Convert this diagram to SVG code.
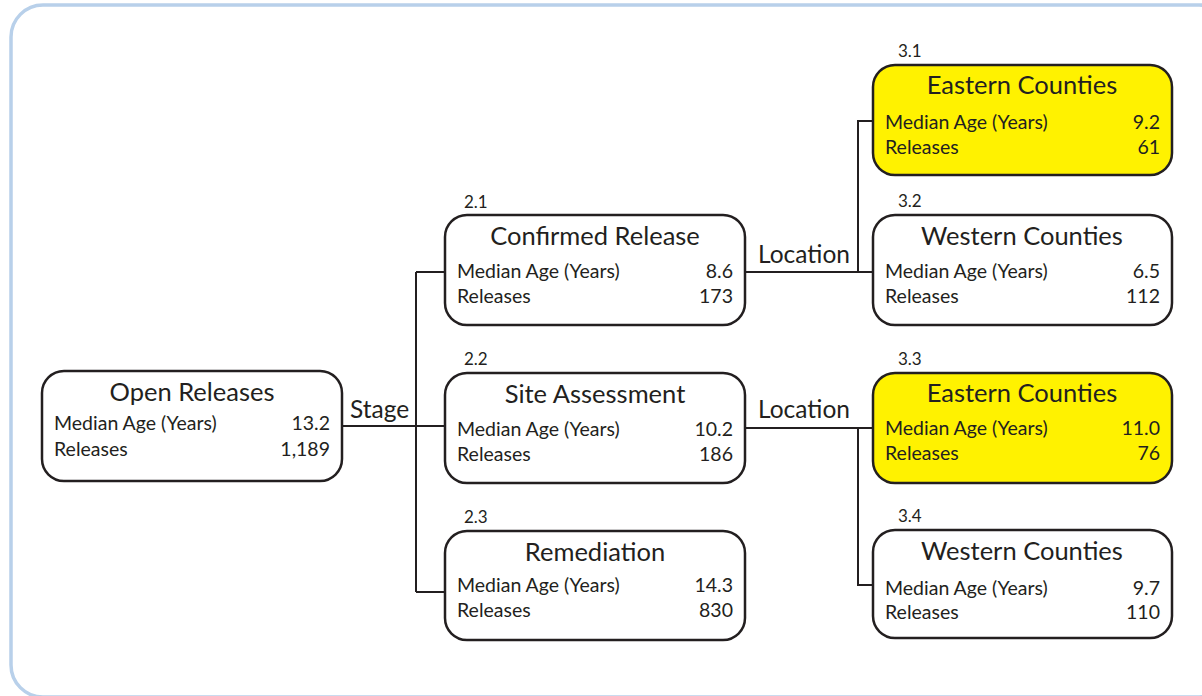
<svg xmlns="http://www.w3.org/2000/svg" width="1202" height="696" viewBox="0 0 1202 696">
<style>
.frame{fill:none;stroke:#b8d0ea;stroke-width:3.5}
.box{fill:#ffffff;stroke:#231f20;stroke-width:2.5}
.hl{fill:#fff200}
.conn{fill:none;stroke:#231f20;stroke-width:2}
text{font-family:Lato,"Open Sans","Liberation Sans",sans-serif;fill:#231f20}
.title{font-size:25.5px;text-anchor:middle}
.row{font-size:19.5px}
.num{font-size:19.5px;text-anchor:end}
.id{font-size:17px}
.lbl{font-size:24.5px}
</style>
<rect class="frame" x="11" y="5" width="1220" height="692" rx="32"/>
<g id="connectors">
<path class="conn" d="M342 426H445"/>
<path class="conn" d="M416 272V592M416 272H445M416 592H445"/>
<path class="conn" d="M745 272H873M858 272V121H873"/>
<path class="conn" d="M745 428H873M858 428V585H873"/>
</g>
<g id="labels">
<text class="lbl" x="350" y="418">Stage</text>
<text class="lbl" x="758" y="263">Location</text>
<text class="lbl" x="758" y="418">Location</text>
</g>
<g id="n1">
<rect class="box" x="42" y="371" width="300" height="110" rx="22"/>
<text class="title" x="192" y="401">Open Releases</text>
<text class="row" x="54" y="430">Median Age (Years)</text>
<text class="num" x="330" y="430">13.2</text>
<text class="row" x="54" y="456">Releases</text>
<text class="num" x="330" y="456">1,189</text>
</g>
<g id="n2_1">
<text class="id" x="464" y="208">2.1</text>
<rect class="box" x="445" y="215" width="300" height="110" rx="22"/>
<text class="title" x="595" y="245">Confirmed Release</text>
<text class="row" x="457" y="278">Median Age (Years)</text>
<text class="num" x="733" y="278">8.6</text>
<text class="row" x="457" y="303">Releases</text>
<text class="num" x="733" y="303">173</text>
</g>
<g id="n2_2">
<text class="id" x="464" y="365">2.2</text>
<rect class="box" x="445" y="373" width="300" height="110" rx="22"/>
<text class="title" x="595" y="403">Site Assessment</text>
<text class="row" x="457" y="436">Median Age (Years)</text>
<text class="num" x="733" y="436">10.2</text>
<text class="row" x="457" y="461">Releases</text>
<text class="num" x="733" y="461">186</text>
</g>
<g id="n2_3">
<text class="id" x="464" y="523">2.3</text>
<rect class="box" x="445" y="531" width="300" height="109" rx="22"/>
<text class="title" x="595" y="561">Remediation</text>
<text class="row" x="457" y="592">Median Age (Years)</text>
<text class="num" x="733" y="592">14.3</text>
<text class="row" x="457" y="617">Releases</text>
<text class="num" x="733" y="617">830</text>
</g>
<g id="n3_1">
<text class="id" x="898" y="57">3.1</text>
<rect class="box hl" x="873" y="65" width="299" height="110" rx="22"/>
<text class="title" x="1022" y="94">Eastern Counties</text>
<text class="row" x="885" y="129">Median Age (Years)</text>
<text class="num" x="1160" y="129">9.2</text>
<text class="row" x="885" y="154">Releases</text>
<text class="num" x="1160" y="154">61</text>
</g>
<g id="n3_2">
<text class="id" x="898" y="207">3.2</text>
<rect class="box" x="873" y="215" width="299" height="110" rx="22"/>
<text class="title" x="1022" y="245">Western Counties</text>
<text class="row" x="885" y="278">Median Age (Years)</text>
<text class="num" x="1160" y="278">6.5</text>
<text class="row" x="885" y="303">Releases</text>
<text class="num" x="1160" y="303">112</text>
</g>
<g id="n3_3">
<text class="id" x="898" y="365">3.3</text>
<rect class="box hl" x="873" y="373" width="299" height="110" rx="22"/>
<text class="title" x="1022" y="402">Eastern Counties</text>
<text class="row" x="885" y="435">Median Age (Years)</text>
<text class="num" x="1160" y="435">11.0</text>
<text class="row" x="885" y="460">Releases</text>
<text class="num" x="1160" y="460">76</text>
</g>
<g id="n3_4">
<text class="id" x="898" y="522">3.4</text>
<rect class="box" x="873" y="530" width="299" height="108" rx="22"/>
<text class="title" x="1022" y="560">Western Counties</text>
<text class="row" x="885" y="595">Median Age (Years)</text>
<text class="num" x="1160" y="595">9.7</text>
<text class="row" x="885" y="619">Releases</text>
<text class="num" x="1160" y="619">110</text>
</g>
</svg>
